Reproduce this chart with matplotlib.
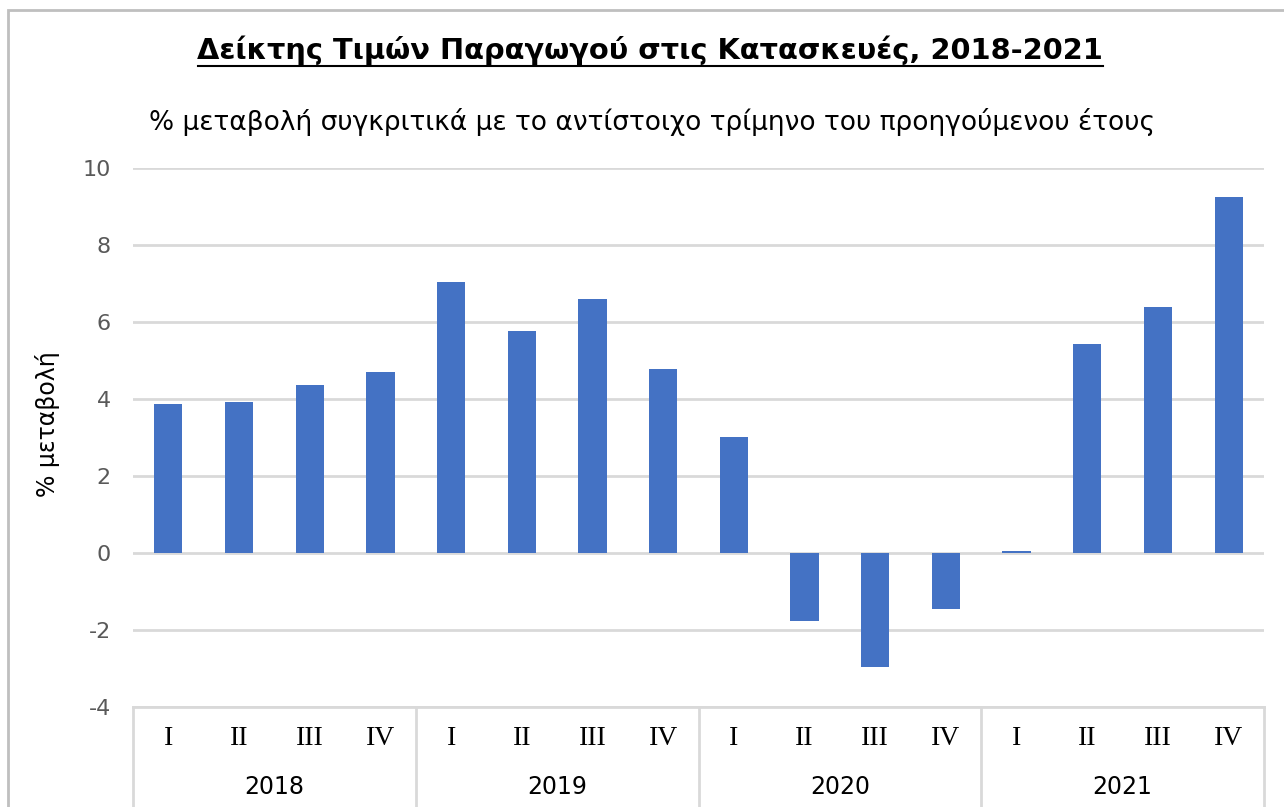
import matplotlib.pyplot as plt
from matplotlib.patches import Rectangle

plt.rcParams['axes.unicode_minus'] = False

# quarterly % change vs same quarter of previous year
years = ['2018', '2019', '2020', '2021']
quarters = ['I', 'II', 'III', 'IV']
values = [3.86, 3.92, 4.36, 4.69,
          7.05, 5.77, 6.60, 4.78,
          3.01, -1.76, -2.95, -1.46,
          0.04, 5.43, 6.39, 9.25]

title = 'Δείκτης Τιμών Παραγωγού στις Κατασκευές, 2018-2021'
subtitle = '% μεταβολή συγκριτικά με το αντίστοιχο τρίμηνο του προηγούμενου έτους'
ylabel = '% μεταβολή'

W, H = 1284, 807
fig = plt.figure(figsize=(W / 100, H / 100), dpi=100)
ax = fig.add_axes([133 / W, (H - 707) / H, (1264 - 133) / W, (707 - 168) / H])

x = list(range(len(values)))
ax.bar(x, values, width=0.4, color='#4472c4', zorder=3)

ax.set_xlim(-0.5, len(values) - 0.5)
ax.set_ylim(-4, 10)
ax.set_yticks(range(-4, 11, 2))
ax.tick_params(axis='y', length=0, labelsize=16, labelcolor='#595959', pad=16)
ax.set_xticks([])
ax.grid(axis='y', color='#d9d9d9', linewidth=2, zorder=0)
for s in ['top', 'right', 'left']:
    ax.spines[s].set_visible(False)
ax.spines['bottom'].set_color('#d9d9d9')
ax.spines['bottom'].set_linewidth(2)

fig.text(48 / W, 1 - 424 / H, ylabel, rotation=90, ha='center', va='center',
         fontsize=17)

# two-level category axis
trans = ax.get_xaxis_transform()
for i, q in enumerate(quarters * len(years)):
    ax.text(i, -0.059, q, transform=trans, ha='center', va='center',
            fontsize=20, family='Liberation Serif')
for j, yr in enumerate(years):
    ax.text(j * 4 + 1.5, -0.148, yr, transform=trans, ha='center', va='center',
            fontsize=17)
for b in range(len(years) + 1):
    ax.plot([b * 4 - 0.5] * 2, [0, -0.2], transform=trans, color='#d9d9d9',
            linewidth=2, clip_on=False)

fig.text(650 / W, 1 - 50 / H, title, ha='center', va='center',
         fontsize=20.8, fontweight='bold')
# underline below title
fig.add_artist(plt.Line2D([198 / W, 1103 / W], [1 - 66 / H] * 2,
                          color='black', linewidth=1.5))
fig.text(652 / W, 1 - 122 / H, subtitle, ha='center', va='center', fontsize=19)

# chart frame
fig.add_artist(Rectangle((8 / W, -0.1), 1.2, 1 - 10 / H + 0.1, transform=fig.transFigure,
                         fill=False, edgecolor='#bfbfbf', linewidth=2))

fig.savefig('out.png', dpi=100)
